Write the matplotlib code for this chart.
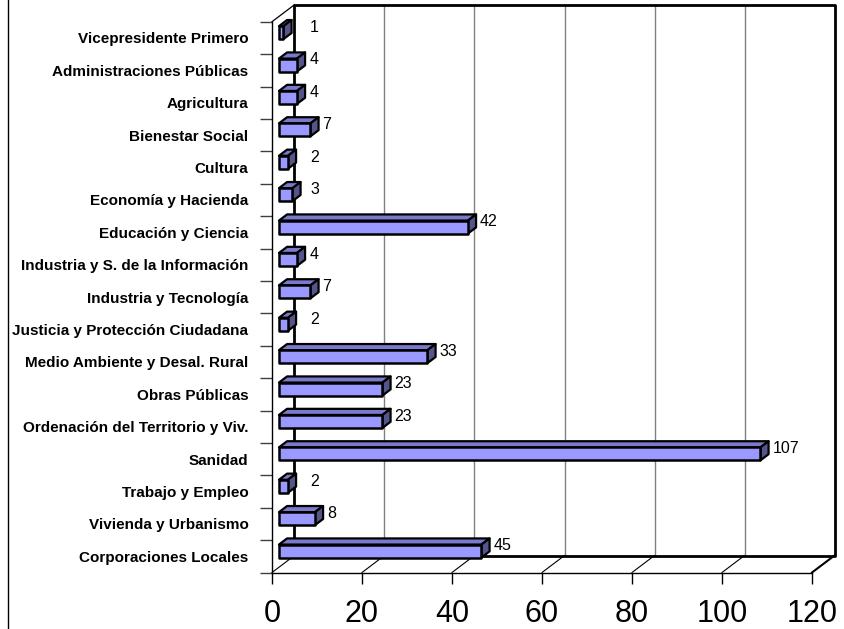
import matplotlib
matplotlib.use('Agg')
import matplotlib.pyplot as plt
import matplotlib.transforms as mtransforms
from matplotlib.patches import Polygon

plt.rcParams['font.family'] = ['Liberation Sans', 'DejaVu Sans']

# Data
categories = [
    "Vicepresidente Primero", "Administraciones Públicas", "Agricultura",
    "Bienestar Social", "Cultura", "Economía y Hacienda", "Educación y Ciencia",
    "Industria y S. de la Información", "Industria y Tecnología",
    "Justicia y Protección Ciudadana", "Medio Ambiente y Desal. Rural",
    "Obras Públicas", "Ordenación del Territorio y Viv.", "Sanidad",
    "Trabajo y Empleo", "Vivienda y Urbanismo", "Corporaciones Locales",
]
values = [1, 4, 4, 7, 2, 3, 42, 4, 7, 2, 33, 23, 23, 107, 2, 8, 45]
x_ticks = [0, 20, 40, 60, 80, 100, 120]

# 3D look: depth offset in pixels (right, up)
DX, DY = 22.5, 17.0
D0, D1 = 0.31, 0.67      # bar front / back depth
BAR_H = 0.40

W, H = 845, 629
fig = plt.figure(figsize=(W / 100, H / 100), dpi=100)
ax = fig.add_axes([272 / W, (H - 572.5) / H, 540 / W, 550.8 / H])
n = len(categories)
ax.set_xlim(0, 120)
ax.set_ylim(n - 0.5, -0.5)

for s in ['top', 'right']:
    ax.spines[s].set_visible(False)
ax.spines['left'].set_linewidth(1)
ax.spines['bottom'].set_linewidth(1)

ax.set_xticks(x_ticks)
ax.tick_params(axis='x', direction='out', length=8, width=1, labelsize=22, pad=11)
ax.set_yticks(range(n))
ax.set_yticklabels(categories, fontsize=11, fontweight='bold')
ax.tick_params(axis='y', length=0, pad=17)
ax.set_yticks([k - 0.5 for k in range(n + 1)], minor=True)
ax.tick_params(axis='y', which='minor', direction='out', length=9, width=1, color='#404040')

ident = mtransforms.IdentityTransform()


def P(x, y, d=0.0):
    px, py = ax.transData.transform((x, y))
    return (px + DX * d, py + DY * d)


def line(pts, **kw):
    xs = [p[0] for p in pts]
    ys = [p[1] for p in pts]
    ax.add_line(plt.Line2D(xs, ys, transform=ident, clip_on=False, **kw))


# back wall
back = Polygon([P(0, -0.5, 1), P(120, -0.5, 1), P(120, n - 0.5, 1), P(0, n - 0.5, 1)],
               closed=True, transform=ident, facecolor='white', edgecolor='none',
               clip_on=False, zorder=0.5)
ax.add_patch(back)
for v in x_ticks[1:-1]:
    line([P(v, -0.5, 1), P(v, n - 0.5, 1)], color='#808080', lw=1, zorder=0.6)
line([P(0, n - 0.5, 1), P(0, -0.5, 1), P(120, -0.5, 1), P(120, n - 0.5, 1),
      P(0, n - 0.5, 1)], color='black', lw=2, zorder=0.7)

# left wall top edge and floor diagonals
line([P(0, -0.5, 0), P(0, -0.5, 1)], color='black', lw=0.9, zorder=0.7)
for v in x_ticks:
    line([P(v, n - 0.5, 0), P(v, n - 0.5, 1)], color='black',
         lw=1.5 if v == 120 else 0.8, zorder=0.7)

# bars
front_c, top_c, side_c = '#9999FF', '#7A7ACC', '#55558C'
for i, v in enumerate(values):
    t, b = i - BAR_H / 2, i + BAR_H / 2
    top = Polygon([P(0, t, D0), P(v, t, D0), P(v, t, D1), P(0, t, D1)],
                  transform=ident, facecolor=top_c, edgecolor='black', lw=1.6,
                  joinstyle='round', zorder=2)
    side = Polygon([P(v, t, D0), P(v, b, D0), P(v, b, D1), P(v, t, D1)],
                   transform=ident, facecolor=side_c, edgecolor='black', lw=1.6,
                   joinstyle='round', zorder=2)
    front = Polygon([P(0, t, D0), P(v, t, D0), P(v, b, D0), P(0, b, D0)],
                    transform=ident, facecolor=front_c, edgecolor='black', lw=1.8,
                    joinstyle='round', zorder=2.1)
    for p in (top, side, front):
        p.set_clip_on(False)
        ax.add_patch(p)
    lx, ly = P(v, i, D1)
    ax.text(max(lx + 4, 310), ly - 1, str(v), transform=ident, fontsize=11.5,
            ha='left', va='center', zorder=3)

# outer chart frame (left edge visible)
fig.add_artist(plt.Line2D([8.5 / W, 8.5 / W], [0, 1], transform=fig.transFigure,
                          color='black', lw=1))

fig.savefig('out.png', dpi=100)
